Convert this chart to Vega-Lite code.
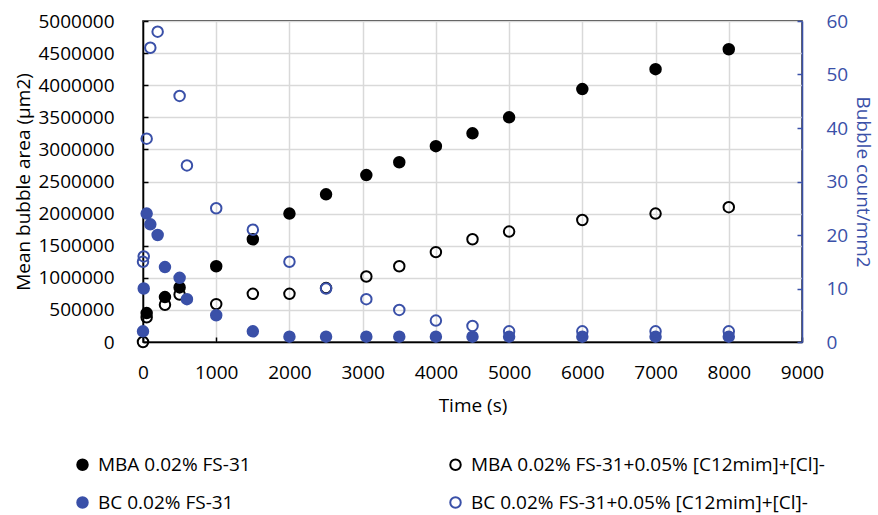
{
  "$schema": "https://vega.github.io/schema/vega-lite/v6.json",
  "width": 659,
  "height": 321,
  "autosize": {"type": "none"},
  "padding": {"left": 143, "top": 21, "right": 76, "bottom": 173},
  "background": "white",
  "config": {
    "font": "Open Sans",
    "view": {"stroke": "black", "strokeWidth": 1.5},
    "axis": {
      "labelFontSize": 19,
      "titleFontSize": 19,
      "titleFontWeight": "normal",
      "labelColor": "black",
      "titleColor": "black",
      "gridColor": "#d9d9d9",
      "gridWidth": 1.5,
      "domainColor": "black",
      "domainWidth": 1.5,
      "tickColor": "black",
      "tickSize": -5,
      "tickWidth": 1.5,
      "labelFlush": false
    },
    "legend": {"labelFontSize": 19, "labelColor": "black", "labelLimit": 0}
  },
  "data": {
    "values": [
      {"series": "MBA 0.02% FS-31", "measure": "area", "time": 50, "value": 450000},
      {"series": "MBA 0.02% FS-31", "measure": "area", "time": 300, "value": 700000},
      {"series": "MBA 0.02% FS-31", "measure": "area", "time": 500, "value": 850000},
      {"series": "MBA 0.02% FS-31", "measure": "area", "time": 1000, "value": 1180000},
      {"series": "MBA 0.02% FS-31", "measure": "area", "time": 1500, "value": 1600000},
      {"series": "MBA 0.02% FS-31", "measure": "area", "time": 2000, "value": 2000000},
      {"series": "MBA 0.02% FS-31", "measure": "area", "time": 2500, "value": 2300000},
      {"series": "MBA 0.02% FS-31", "measure": "area", "time": 3050, "value": 2600000},
      {"series": "MBA 0.02% FS-31", "measure": "area", "time": 3500, "value": 2800000},
      {"series": "MBA 0.02% FS-31", "measure": "area", "time": 4000, "value": 3050000},
      {"series": "MBA 0.02% FS-31", "measure": "area", "time": 4500, "value": 3250000},
      {"series": "MBA 0.02% FS-31", "measure": "area", "time": 5000, "value": 3500000},
      {"series": "MBA 0.02% FS-31", "measure": "area", "time": 6000, "value": 3940000},
      {"series": "MBA 0.02% FS-31", "measure": "area", "time": 7000, "value": 4250000},
      {"series": "MBA 0.02% FS-31", "measure": "area", "time": 8000, "value": 4560000},
      {"series": "MBA 0.02% FS-31+0.05% [C12mim]+[Cl]-", "measure": "area", "time": 0, "value": 0},
      {"series": "MBA 0.02% FS-31+0.05% [C12mim]+[Cl]-", "measure": "area", "time": 50, "value": 385000},
      {"series": "MBA 0.02% FS-31+0.05% [C12mim]+[Cl]-", "measure": "area", "time": 300, "value": 580000},
      {"series": "MBA 0.02% FS-31+0.05% [C12mim]+[Cl]-", "measure": "area", "time": 500, "value": 740000},
      {"series": "MBA 0.02% FS-31+0.05% [C12mim]+[Cl]-", "measure": "area", "time": 1000, "value": 590000},
      {"series": "MBA 0.02% FS-31+0.05% [C12mim]+[Cl]-", "measure": "area", "time": 1500, "value": 750000},
      {"series": "MBA 0.02% FS-31+0.05% [C12mim]+[Cl]-", "measure": "area", "time": 2000, "value": 750000},
      {"series": "MBA 0.02% FS-31+0.05% [C12mim]+[Cl]-", "measure": "area", "time": 2500, "value": 840000},
      {"series": "MBA 0.02% FS-31+0.05% [C12mim]+[Cl]-", "measure": "area", "time": 3050, "value": 1020000},
      {"series": "MBA 0.02% FS-31+0.05% [C12mim]+[Cl]-", "measure": "area", "time": 3500, "value": 1180000},
      {"series": "MBA 0.02% FS-31+0.05% [C12mim]+[Cl]-", "measure": "area", "time": 4000, "value": 1400000},
      {"series": "MBA 0.02% FS-31+0.05% [C12mim]+[Cl]-", "measure": "area", "time": 4500, "value": 1600000},
      {"series": "MBA 0.02% FS-31+0.05% [C12mim]+[Cl]-", "measure": "area", "time": 5000, "value": 1720000},
      {"series": "MBA 0.02% FS-31+0.05% [C12mim]+[Cl]-", "measure": "area", "time": 6000, "value": 1900000},
      {"series": "MBA 0.02% FS-31+0.05% [C12mim]+[Cl]-", "measure": "area", "time": 7000, "value": 2000000},
      {"series": "MBA 0.02% FS-31+0.05% [C12mim]+[Cl]-", "measure": "area", "time": 8000, "value": 2100000},
      {"series": "BC 0.02% FS-31", "measure": "count", "time": 0, "value": 2},
      {"series": "BC 0.02% FS-31", "measure": "count", "time": 10, "value": 10},
      {"series": "BC 0.02% FS-31", "measure": "count", "time": 50, "value": 24},
      {"series": "BC 0.02% FS-31", "measure": "count", "time": 100, "value": 22},
      {"series": "BC 0.02% FS-31", "measure": "count", "time": 200, "value": 20},
      {"series": "BC 0.02% FS-31", "measure": "count", "time": 300, "value": 14},
      {"series": "BC 0.02% FS-31", "measure": "count", "time": 500, "value": 12},
      {"series": "BC 0.02% FS-31", "measure": "count", "time": 600, "value": 8},
      {"series": "BC 0.02% FS-31", "measure": "count", "time": 1000, "value": 5},
      {"series": "BC 0.02% FS-31", "measure": "count", "time": 1500, "value": 2},
      {"series": "BC 0.02% FS-31", "measure": "count", "time": 2000, "value": 1},
      {"series": "BC 0.02% FS-31", "measure": "count", "time": 2500, "value": 1},
      {"series": "BC 0.02% FS-31", "measure": "count", "time": 3050, "value": 1},
      {"series": "BC 0.02% FS-31", "measure": "count", "time": 3500, "value": 1},
      {"series": "BC 0.02% FS-31", "measure": "count", "time": 4000, "value": 1},
      {"series": "BC 0.02% FS-31", "measure": "count", "time": 4500, "value": 1},
      {"series": "BC 0.02% FS-31", "measure": "count", "time": 5000, "value": 1},
      {"series": "BC 0.02% FS-31", "measure": "count", "time": 6000, "value": 1},
      {"series": "BC 0.02% FS-31", "measure": "count", "time": 7000, "value": 1},
      {"series": "BC 0.02% FS-31", "measure": "count", "time": 8000, "value": 1},
      {"series": "BC 0.02% FS-31+0.05% [C12mim]+[Cl]-", "measure": "count", "time": 0, "value": 15},
      {"series": "BC 0.02% FS-31+0.05% [C12mim]+[Cl]-", "measure": "count", "time": 10, "value": 16},
      {"series": "BC 0.02% FS-31+0.05% [C12mim]+[Cl]-", "measure": "count", "time": 50, "value": 38},
      {"series": "BC 0.02% FS-31+0.05% [C12mim]+[Cl]-", "measure": "count", "time": 100, "value": 55},
      {"series": "BC 0.02% FS-31+0.05% [C12mim]+[Cl]-", "measure": "count", "time": 200, "value": 58},
      {"series": "BC 0.02% FS-31+0.05% [C12mim]+[Cl]-", "measure": "count", "time": 500, "value": 46},
      {"series": "BC 0.02% FS-31+0.05% [C12mim]+[Cl]-", "measure": "count", "time": 600, "value": 33},
      {"series": "BC 0.02% FS-31+0.05% [C12mim]+[Cl]-", "measure": "count", "time": 1000, "value": 25},
      {"series": "BC 0.02% FS-31+0.05% [C12mim]+[Cl]-", "measure": "count", "time": 1500, "value": 21},
      {"series": "BC 0.02% FS-31+0.05% [C12mim]+[Cl]-", "measure": "count", "time": 2000, "value": 15},
      {"series": "BC 0.02% FS-31+0.05% [C12mim]+[Cl]-", "measure": "count", "time": 2500, "value": 10},
      {"series": "BC 0.02% FS-31+0.05% [C12mim]+[Cl]-", "measure": "count", "time": 3050, "value": 8},
      {"series": "BC 0.02% FS-31+0.05% [C12mim]+[Cl]-", "measure": "count", "time": 3500, "value": 6},
      {"series": "BC 0.02% FS-31+0.05% [C12mim]+[Cl]-", "measure": "count", "time": 4000, "value": 4},
      {"series": "BC 0.02% FS-31+0.05% [C12mim]+[Cl]-", "measure": "count", "time": 4500, "value": 3},
      {"series": "BC 0.02% FS-31+0.05% [C12mim]+[Cl]-", "measure": "count", "time": 5000, "value": 2},
      {"series": "BC 0.02% FS-31+0.05% [C12mim]+[Cl]-", "measure": "count", "time": 6000, "value": 2},
      {"series": "BC 0.02% FS-31+0.05% [C12mim]+[Cl]-", "measure": "count", "time": 7000, "value": 2},
      {"series": "BC 0.02% FS-31+0.05% [C12mim]+[Cl]-", "measure": "count", "time": 8000, "value": 2}
    ]
  },
  "layer": [
    {
      "transform": [{"filter": "datum.measure === 'area'"}],
      "mark": {"type": "point", "shape": "circle", "size": 110, "strokeWidth": 2, "opacity": 1},
      "encoding": {
        "x": {
          "field": "time", "type": "quantitative",
          "scale": {"domain": [0, 9000], "nice": false},
          "axis": {"title": "Time (s)", "values": [0,1000,2000,3000,4000,5000,6000,7000,8000,9000], "format": "d", "labelPadding": 26, "titlePadding": 14}
        },
        "y": {
          "field": "value", "type": "quantitative",
          "scale": {"domain": [0, 5000000], "nice": false},
          "axis": {"title": "Mean bubble area (µm2)", "values": [0,500000,1000000,1500000,2000000,2500000,3000000,3500000,4000000,4500000,5000000], "format": "d", "titlePadding": 4, "labelPadding": 34}
        },
        "fill": {
          "field": "series", "type": "nominal",
          "scale": {
            "domain": ["MBA 0.02% FS-31", "BC 0.02% FS-31", "MBA 0.02% FS-31+0.05% [C12mim]+[Cl]-", "BC 0.02% FS-31+0.05% [C12mim]+[Cl]-"],
            "range": ["black", "#3A50A8", "transparent", "transparent"]
          },
          "legend": {
            "title": null, "orient": "none", "legendX": -70, "legendY": 434, "columns": 2,
            "columnPadding": 195, "rowPadding": 18, "symbolSize": 110, "symbolStrokeWidth": 2, "labelOffset": 6
          }
        },
        "stroke": {
          "field": "series", "type": "nominal",
          "scale": {
            "domain": ["MBA 0.02% FS-31", "BC 0.02% FS-31", "MBA 0.02% FS-31+0.05% [C12mim]+[Cl]-", "BC 0.02% FS-31+0.05% [C12mim]+[Cl]-"],
            "range": ["black", "#3A50A8", "black", "#3A50A8"]
          },
          "legend": {
            "title": null, "orient": "none", "legendX": -70, "legendY": 434, "columns": 2,
            "columnPadding": 195, "rowPadding": 18, "symbolSize": 110, "symbolStrokeWidth": 2, "labelOffset": 6
          }
        }
      }
    },
    {
      "transform": [{"filter": "datum.measure === 'count'"}],
      "mark": {"type": "point", "shape": "circle", "size": 110, "strokeWidth": 2, "opacity": 1},
      "encoding": {
        "x": {"field": "time", "type": "quantitative"},
        "y": {
          "field": "value", "type": "quantitative",
          "scale": {"domain": [0, 60], "nice": false},
          "axis": {"orient": "right", "title": "Bubble count/mm2", "values": [0,10,20,30,40,50,60], "labelColor": "#3A50A8", "titleColor": "#3A50A8", "domainColor": "#3A50A8", "tickColor": "#3A50A8", "grid": false, "labelPadding": 29, "titlePadding": 5}
        },
        "fill": {"field": "series", "type": "nominal"},
        "stroke": {"field": "series", "type": "nominal"}
      }
    }
  ],
  "resolve": {"scale": {"y": "independent"}}
}
